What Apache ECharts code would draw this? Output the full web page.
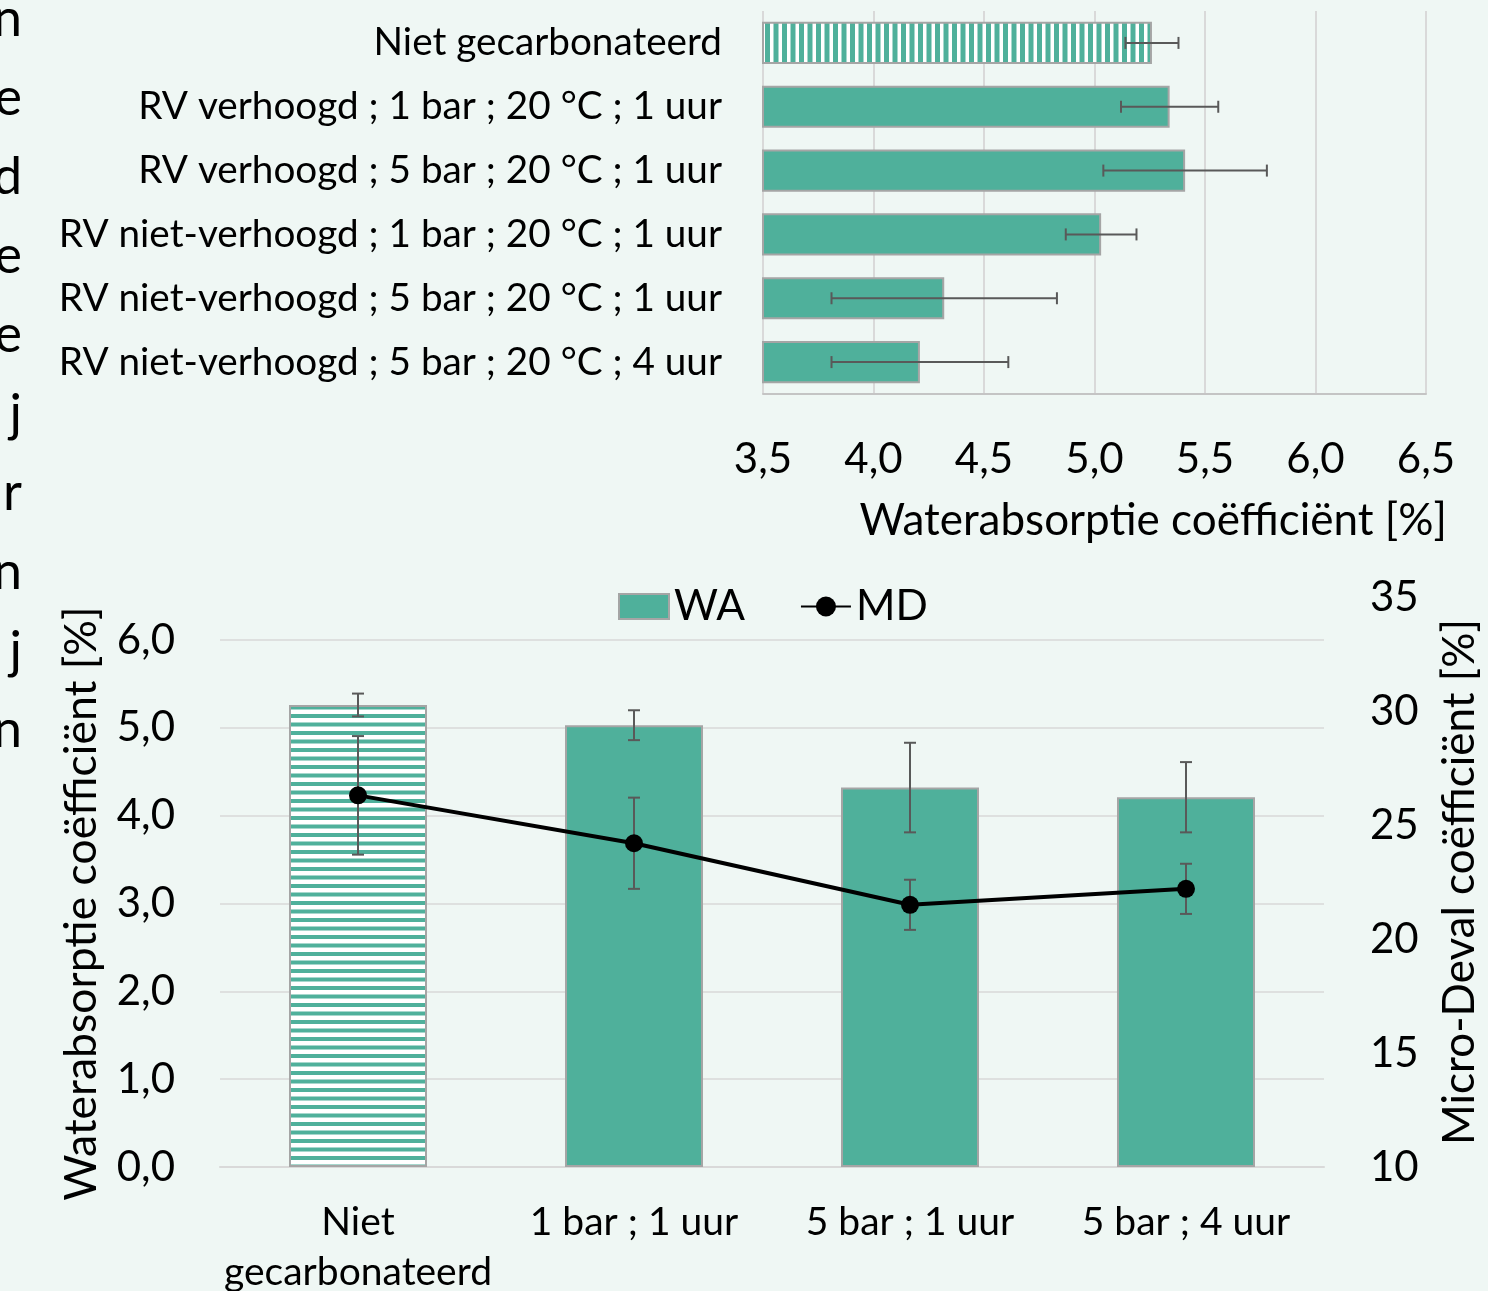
<!DOCTYPE html>
<html>
<head>
<meta charset="utf-8">
<script src="https://cdn.jsdelivr.net/npm/echarts@6/dist/echarts.min.js"></script>
<style>
  html, body { margin: 0; padding: 0; background: #eff7f4; }
  #chart { width: 1488px; height: 1291px; }
</style>
</head>
<body>
<div id="chart"></div>
<script>
// bovenste grafiek (horizontaal)
const topCategories = [
  'Niet gecarbonateerd',
  'RV verhoogd ; 1 bar ; 20 °C ; 1 uur',
  'RV verhoogd ; 5 bar ; 20 °C ; 1 uur',
  'RV niet-verhoogd ; 1 bar ; 20 °C ; 1 uur',
  'RV niet-verhoogd ; 5 bar ; 20 °C ; 1 uur',
  'RV niet-verhoogd ; 5 bar ; 20 °C ; 4 uur'
]
const topValues = [5.26, 5.34, 5.41, 5.03, 4.32, 4.21]
const topErrors = [0.12, 0.22, 0.37, 0.16, 0.51, 0.40]

// onderste grafiek (WA + MD)
const bottomCategories = ['Niet\ngecarbonateerd', '1 bar ; 1 uur', '5 bar ; 1 uur', '5 bar ; 4 uur']
const waValues = [5.26, 5.03, 4.32, 4.21]
const waErrors = [0.13, 0.17, 0.51, 0.40]
const mdValues = [26.3, 24.2, 21.5, 22.2]
const mdErrors = [2.6, 2.0, 1.1, 1.1]

// afgesneden tekst links
const edgeLetters = ['n', 'e', 'd', 'e', 'e', 'j', 'r', 'n', 'j', 'n']

const green = '#4fb09b'
const border = '#a5a5a5'
const font = 'Lato'

function stripes (vertical) {
  const c = document.createElement('canvas')
  c.width = 17
  c.height = 17
  const ctx = c.getContext('2d')
  ctx.fillStyle = '#ffffff'
  ctx.fillRect(0, 0, 17, 17)
  ctx.fillStyle = green
  if (vertical) {
    ctx.fillRect(0, 0, 5, 17)
    ctx.fillRect(8.5, 0, 5, 17)
  } else {
    ctx.fillRect(0, 0, 17, 4)
    ctx.fillRect(0, 8.5, 17, 4)
  }
  return { image: c, repeat: 'repeat' }
}

function comma (v) {
  return v.toFixed(1).replace('.', ',')
}

// foutbalk: horizontal = true voor de bovenste grafiek
function errorBar (horizontal) {
  return function (params, api) {
    let a, b
    const cap = 6
    if (horizontal) {
      a = api.coord([api.value(0), api.value(2)])
      b = api.coord([api.value(1), api.value(2)])
    } else {
      a = api.coord([api.value(0), api.value(1)])
      b = api.coord([api.value(0), api.value(2)])
    }
    const style = { stroke: '#595959', lineWidth: 2 }
    const lines = [{ type: 'line', shape: { x1: a[0], y1: a[1], x2: b[0], y2: b[1] }, style }]
    if (horizontal) {
      lines.push({ type: 'line', shape: { x1: a[0], y1: a[1] - cap, x2: a[0], y2: a[1] + cap }, style })
      lines.push({ type: 'line', shape: { x1: b[0], y1: b[1] - cap, x2: b[0], y2: b[1] + cap }, style })
    } else {
      lines.push({ type: 'line', shape: { x1: a[0] - cap, y1: a[1], x2: a[0] + cap, y2: a[1] }, style })
      lines.push({ type: 'line', shape: { x1: b[0] - cap, y1: b[1], x2: b[0] + cap, y2: b[1] }, style })
    }
    return { type: 'group', children: lines }
  }
}

const chart = echarts.init(document.getElementById('chart'))

const option = {
  backgroundColor: '#eff7f4',
  textStyle: { fontFamily: font, color: '#000' },
  animation: false,
  legend: {
    data: [{ name: 'WA', icon: 'rect' }, { name: 'MD' }],
    left: 613,
    top: 580,
    itemWidth: 50,
    itemHeight: 25,
    itemGap: 55,
    textStyle: { fontFamily: font, fontSize: 42.5, color: '#000' }
  },
  graphic: edgeLetters.map((ch, i) => ({
    type: 'text',
    x: 22,
    y: -7 + i * 79,
    style: { text: ch, font: '52px Lato', fill: '#000', align: 'right', verticalAlign: 'top' }
  })).concat([{
    type: 'text',
    x: 1447,
    y: 521,
    style: {
      text: 'Waterabsorptie coëfficiënt [%]',
      font: '44px Lato',
      fill: '#000',
      align: 'right',
      verticalAlign: 'middle'
    }
  }]),
  grid: [
    { left: 763, right: 62, top: 11, bottom: 897, outerBoundsMode: 'none' },
    { left: 220, right: 164, top: 640, bottom: 124, outerBoundsMode: 'none' },
    { left: 220, right: 164, top: 597, bottom: 124, outerBoundsMode: 'none' }
  ],
  xAxis: [
    {
      gridIndex: 0,
      type: 'value',
      min: 3.5,
      max: 6.5,
      interval: 0.5,
      axisLine: { show: true, lineStyle: { color: '#c4c4c4', width: 2 } },
      axisTick: { show: false },
      splitLine: { show: true, lineStyle: { color: '#d9d9d9', width: 2 } },
      axisLabel: { formatter: comma, fontSize: 42, color: '#000', margin: 44 }
    },
    {
      gridIndex: 1,
      type: 'category',
      data: bottomCategories,
      axisLine: { lineStyle: { color: '#d9d9d9', width: 2 } },
      axisTick: { show: false },
      axisLabel: { fontSize: 39, color: '#000', margin: 30, lineHeight: 50, interval: 0 }
    },
    {
      gridIndex: 2,
      type: 'category',
      data: bottomCategories,
      show: false
    }
  ],
  yAxis: [
    {
      gridIndex: 0,
      type: 'category',
      inverse: true,
      data: topCategories,
      axisLine: { show: false },
      axisTick: { show: false },
      axisLabel: { fontSize: 38.7, color: '#000', margin: 41 }
    },
    {
      gridIndex: 1,
      type: 'value',
      min: 0,
      max: 6,
      interval: 1,
      name: 'Waterabsorptie coëfficiënt [%]',
      nameLocation: 'middle',
      nameRotate: 90,
      nameGap: 116,
      nameTextStyle: { fontSize: 44.5, color: '#000', fontFamily: font },
      axisLine: { show: false },
      axisTick: { show: false },
      splitLine: { lineStyle: { color: '#d9d9d9', width: 1.5 } },
      axisLabel: { formatter: comma, fontSize: 42, color: '#000', margin: 45 }
    },
    {
      gridIndex: 2,
      type: 'value',
      position: 'right',
      min: 10,
      max: 35,
      interval: 5,
      name: 'Micro-Deval coëfficiënt [%]',
      nameLocation: 'middle',
      nameRotate: 90,
      nameGap: 114,
      nameTextStyle: { fontSize: 44, color: '#000', fontFamily: font },
      axisLine: { show: false },
      axisTick: { show: false },
      splitLine: { show: false },
      axisLabel: { fontSize: 42, color: '#000', margin: 46 }
    }
  ],
  series: [
    {
      type: 'bar',
      xAxisIndex: 0,
      yAxisIndex: 0,
      barCategoryGap: '34%',
      itemStyle: { color: green, borderColor: border, borderWidth: 2 },
      data: topValues.map((v, i) => i === 0 ? { value: v, itemStyle: { color: stripes(true) } } : v)
    },
    {
      type: 'custom',
      xAxisIndex: 0,
      yAxisIndex: 0,
      renderItem: errorBar(true),
      encode: { x: [0, 1], y: 2 },
      data: topValues.map((v, i) => [v - topErrors[i], v + topErrors[i], i]),
      z: 5
    },
    {
      name: 'WA',
      type: 'bar',
      xAxisIndex: 1,
      yAxisIndex: 1,
      barCategoryGap: '50%',
      itemStyle: { color: green, borderColor: border, borderWidth: 2 },
      data: waValues.map((v, i) => i === 0 ? { value: v, itemStyle: { color: stripes(false) } } : v)
    },
    {
      type: 'custom',
      xAxisIndex: 1,
      yAxisIndex: 1,
      renderItem: errorBar(false),
      encode: { x: 0, y: [1, 2] },
      data: waValues.map((v, i) => [i, v - waErrors[i], v + waErrors[i]]),
      z: 5
    },
    {
      type: 'custom',
      xAxisIndex: 2,
      yAxisIndex: 2,
      renderItem: errorBar(false),
      encode: { x: 0, y: [1, 2] },
      data: mdValues.map((v, i) => [i, v - mdErrors[i], v + mdErrors[i]]),
      z: 6
    },
    {
      name: 'MD',
      type: 'line',
      xAxisIndex: 2,
      yAxisIndex: 2,
      symbol: 'circle',
      symbolSize: 18,
      lineStyle: { color: '#000', width: 4 },
      itemStyle: { color: '#000' },
      data: mdValues,
      z: 8
    }
  ]
}

chart.setOption(option)
</script>
</body>
</html>
